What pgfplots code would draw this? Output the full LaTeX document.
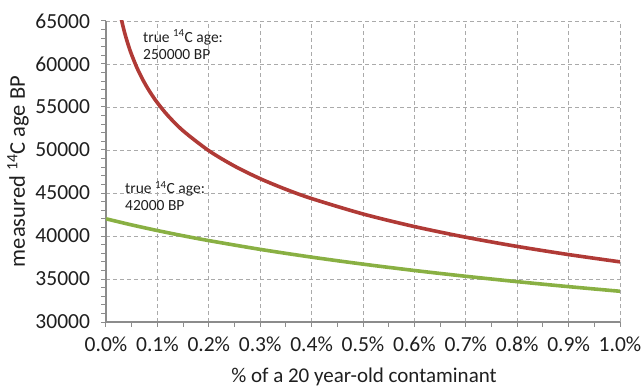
\documentclass[border=0pt]{standalone}
\usepackage{fontspec}
\setmainfont{Carlito}
\usepackage{pgfplots}
\pgfplotsset{compat=1.18}
\definecolor{redline}{RGB}{176,58,54}
\definecolor{greenline}{RGB}{137,176,67}
\definecolor{gridgray}{RGB}{170,170,170}
\definecolor{axgray}{RGB}{140,140,140}
\begin{document}
\begin{tikzpicture}
\path[use as bounding box] (-106bp,-65bp) rectangle (536bp,322bp);
\begin{axis}[
  at={(0,0)}, anchor=south west,
  width=514bp, height=301bp, scale only axis,
  xmin=0, xmax=1, ymin=30000, ymax=65000,
  xtick={0,0.1,...,1.0}, ytick={30000,35000,...,65000},
  scaled y ticks=false, scaled x ticks=false,
  minor x tick num=1, minor y tick num=4,
  axis lines*=left,
  axis line style={axgray, line width=1.3bp, -},
  tick style={axgray, line width=1bp},
  major tick length=4.5bp, minor tick length=4.5bp,
  tick align=outside,
  grid=major,
  major grid style={gridgray, dashed, dash pattern=on 4bp off 3bp, line width=0.8bp},
  /pgf/number format/assume math mode=true,
  /pgf/number format/1000 sep={},
  xticklabel={\pgfmathprintnumber[fixed,fixed zerofill,precision=1]{\tick}\%},
  yticklabel={\pgfmathprintnumber[fixed,precision=0]{\tick}},
  every tick label/.append style={font=\fontsize{21.5bp}{25bp}\selectfont, text=black!88},
  xticklabel style={yshift=-7bp},
  yticklabel style={xshift=-8bp},
  clip=true,
]
\addplot[redline, line width=3.6bp, smooth] coordinates {
(0.03,65161) (0.035,63924) (0.04,62850) (0.045,61905) (0.05,61058) (0.06,59593) (0.07,58355)
(0.08,57282) (0.09,56336) (0.1,55490) (0.12,54025) (0.15,52233) (0.2,49922)
(0.25,48130) (0.3,46665) (0.35,45427) (0.4,44355) (0.5,42561) (0.6,41097)
(0.7,39858) (0.8,38786) (0.9,37840) (1.0,36994)
};
\addplot[greenline, line width=3.6bp, smooth] coordinates {
(0,42000) (0.05,41288) (0.1,40634) (0.15,40028) (0.2,39466) (0.3,38446) (0.4,37542)
(0.5,36729) (0.6,35990) (0.7,35315) (0.8,34691) (0.9,34112) (1.0,33573)
};
\node[anchor=west, align=left, inner sep=0pt, text=black!88,
  font=\fontsize{15.5bp}{17bp}\selectfont] at (axis cs:0.072,62267)
  {true \textsuperscript{14}C age:\\250000 BP};
\node[anchor=west, align=left, inner sep=0pt, text=black!88,
  font=\fontsize{15.5bp}{17bp}\selectfont] at (axis cs:0.037,44651)
  {true \textsuperscript{14}C age:\\42000 BP};
\end{axis}
\node[inner sep=0pt, text=black!88, font=\fontsize{21bp}{25bp}\selectfont] at (258bp,-55bp)
  {\% of a 20 year-old contaminant};
\node[inner sep=0pt, rotate=90, text=black!88, font=\fontsize{22.5bp}{26bp}\selectfont] at (-88bp,150.5bp)
  {measured \textsuperscript{14}C age BP};
\end{tikzpicture}
\end{document}
